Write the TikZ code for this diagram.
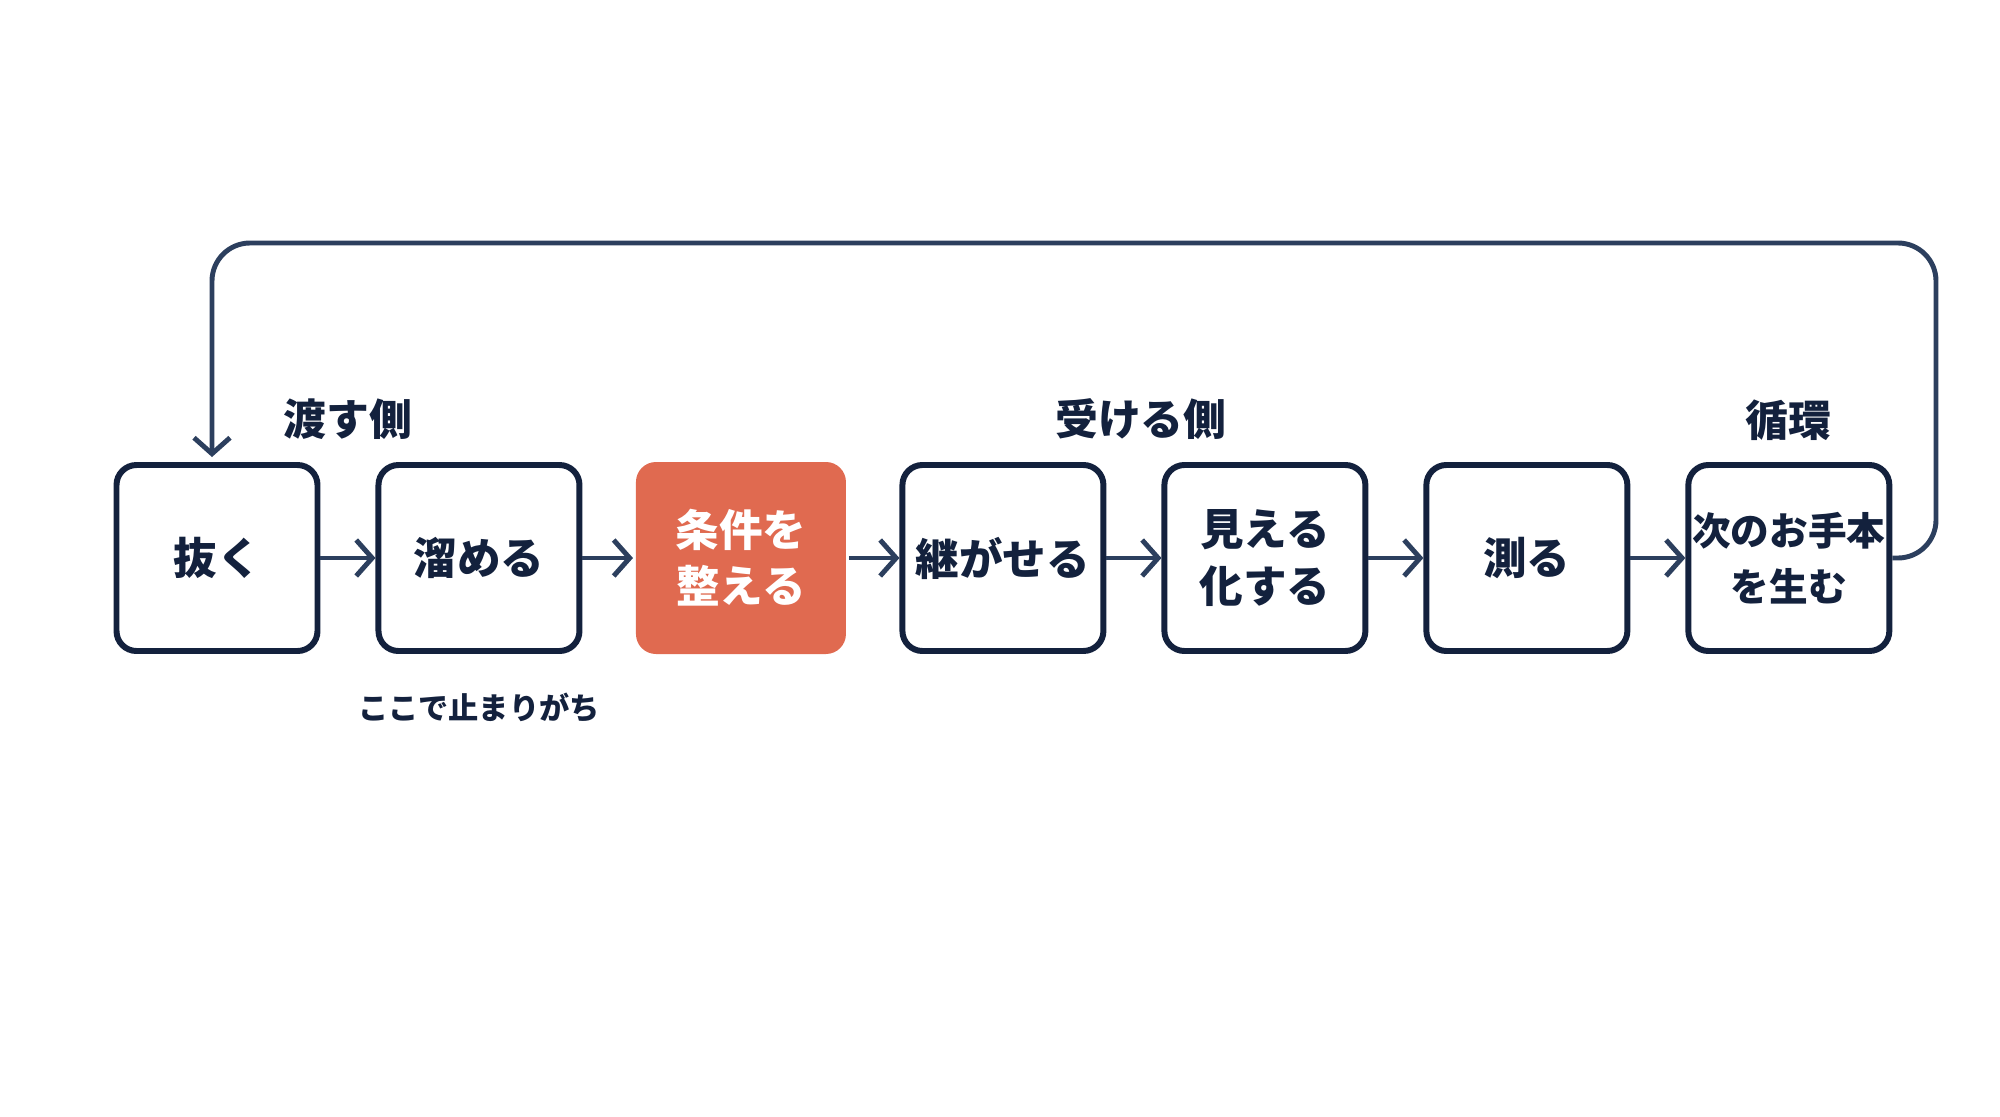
\documentclass[tikz,border=0pt]{standalone}
\usepackage{fontspec}
\setmainfont{Noto Sans CJK JP}
\usetikzlibrary{positioning,calc,arrows.meta}

\definecolor{flownavy}{HTML}{13213D}
\definecolor{flowline}{HTML}{2C3F5E}
\definecolor{flowaccent}{HTML}{E06A50}

\newcommand\flowtextstyle{\fontsize{12.4}{16}\selectfont\bfseries}
\newcommand\flowsmallstyle{\fontsize{11}{16}\selectfont\bfseries}
\newcommand\flowheadstyle{\fontsize{12.2}{15}\selectfont\bfseries}
\newcommand\flownotestyle{\fontsize{8.6}{10}\selectfont\bfseries}

\tikzset{
  stepbox/.style={draw=flownavy, line width=1.7pt, rounded corners=0.2cm, fill=white,
    minimum width=2.01cm, minimum height=1.86cm, align=center, text=flownavy,
    font=\flowtextstyle, inner sep=0pt},
  stephot/.style={stepbox, draw=none, fill=flowaccent, text=white,
    minimum width=2.1cm, minimum height=1.92cm},
  flowarrow/.style={draw=flowline, line width=1.4pt,
    -{Straight Barb[length=0.16cm, width=0.36cm, line width=1.4pt]}},
  headlabel/.style={text=flownavy, font=\flowheadstyle, inner sep=0pt},
}

\begin{document}
\begin{tikzpicture}[node distance=0.55cm]
  \useasboundingbox (0,0) rectangle (20,11.16);
  % steps
  \node[stepbox] (nuku) at (2.17,5.58) {抜く};
  \node[stepbox, right=of nuku] (tameru) {溜める};
  \node[stephot, right=0.505cm of tameru] (joken) {条件を\\整える};
  \node[stepbox, right=0.505cm of joken] (tsugu) {継がせる};
  \node[stepbox, right=of tsugu] (mieru) {見える\\化する};
  \node[stepbox, right=of mieru] (hakaru) {測る};
  \node[stepbox, font=\flowsmallstyle, right=of hakaru] (otehon) {次のお手本\\を生む};
  % arrows between steps
  \foreach \a/\b in {nuku/tameru, tameru/joken, joken/tsugu, tsugu/mieru, mieru/hakaru, hakaru/otehon}
    \draw[flowarrow] (\a.east) -- (\b.west);
  % loop back
  \coordinate (looptop) at (19.36,8.73);
  \draw[flowarrow, rounded corners=0.38cm, shorten >=0.05cm]
    (otehon.east) -| (looptop) -| ([xshift=-0.05cm]nuku.north);
  % labels
  \node[headlabel] (watasu) at ($(nuku.north)!0.5!(tameru.north)+(0,0.43)$) {渡す側};
  \node[headlabel] (ukeru) at ($(tsugu.north)!0.5!(mieru.north)+(0.07,0.43)$) {受ける側};
  \node[headlabel, above=0.21cm of otehon] (junkan) {循環};
  \node[text=flownavy, font=\flownotestyle, below=0.27cm of tameru] (tomari) {ここで止まりがち};
\end{tikzpicture}
\end{document}
